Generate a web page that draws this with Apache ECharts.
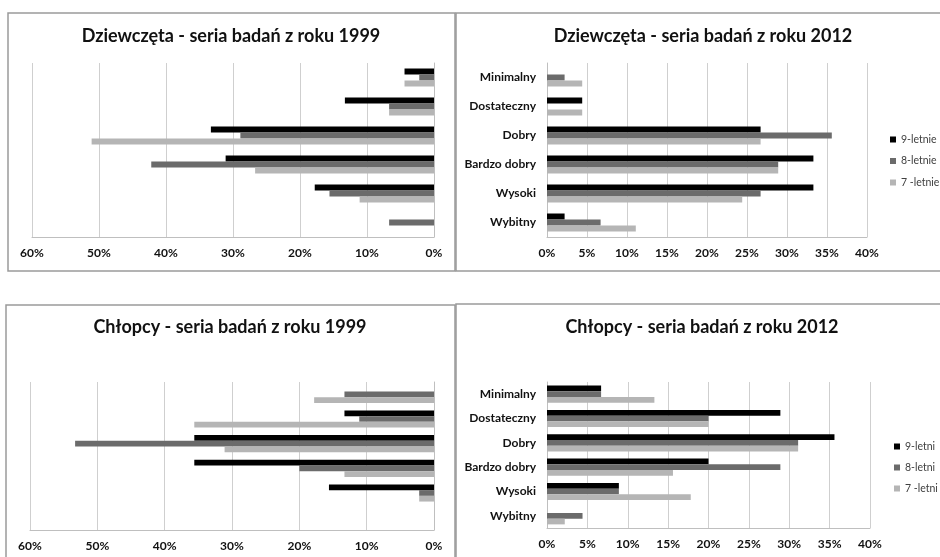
<!DOCTYPE html>
<html><head><meta charset="utf-8">
<script src="https://cdn.jsdelivr.net/npm/echarts@6/dist/echarts.min.js"></script>
<style>html,body{margin:0;padding:0;background:#fff}#c{width:940px;height:557px}</style>
</head><body><div id="c"></div>
<script>
const categories = ['Minimalny','Dostateczny','Dobry','Bardzo dobry','Wysoki','Wybitny'];
const girlsNames = ['9-letnie','8-letnie','7 -letnie'];
const boysNames = ['9-letni','8-letni','7 -letni'];
const titles = ['Dziewczęta - seria badań z roku 1999','Dziewczęta - seria badań z roku 2012','Chłopcy - seria badań z roku 1999','Chłopcy - seria badań z roku 2012'];
const leftTicks = [0,10,20,30,40,50,60];
const rightTicks = [0,5,10,15,20,25,30,35,40];

// values in percent
const girls1999_9 = [4.4, 13.3, 33.3, 31.1, 17.8, 0];
const girls1999_8 = [2.2, 6.7, 28.9, 42.2, 15.6, 6.7];
const girls1999_7 = [4.4, 6.7, 51.1, 26.7, 11.1, 0];
const girls2012_9 = [0, 4.4, 26.7, 33.3, 33.3, 2.2];
const girls2012_8 = [2.2, 0, 35.6, 28.9, 26.7, 6.7];
const girls2012_7 = [4.4, 4.4, 26.7, 28.9, 24.4, 11.1];
const boys1999_9 = [0, 13.3, 35.6, 35.6, 15.6, 0];
const boys1999_8 = [13.3, 11.1, 53.3, 20.0, 2.2, 0];
const boys1999_7 = [17.8, 35.6, 31.1, 13.3, 2.2, 0];
const boys2012_9 = [6.7, 28.9, 35.6, 20.0, 8.9, 0];
const boys2012_8 = [6.7, 20.0, 31.1, 28.9, 8.9, 4.4];
const boys2012_7 = [13.3, 20.0, 31.1, 15.6, 17.8, 2.2];

const colors = ['#000000','#6b6b6b','#b5b5b5'];
const FONT = 'Lato';
const chart = echarts.init(document.getElementById('c'));

const grids = [
  {left:32, top:63, width:402, height:174},
  {left:547, top:63, width:320, height:174},
  {left:30, top:382, width:404, height:148},
  {left:547, top:382, width:323, height:146}
];
const isLeft = [true,false,true,false];
const xAxes = grids.map((g,i)=>({
  gridIndex:i, type:'value', min:0, max: isLeft[i]?leftTicks[leftTicks.length-1]:rightTicks[rightTicks.length-1],
  interval: isLeft[i]?10:5, inverse: isLeft[i],
  axisLine:{show:true, lineStyle:{color:'#bfbfbf'}}, axisTick:{show:false},
  splitLine:{show:true, lineStyle:{color:'#cfcfcf', width:1}},
  axisLabel:{formatter:'{value}%', fontFamily:FONT, fontWeight:'bold', fontSize:12, color:'#111', margin:10}
}));
const yAxes = grids.map((g,i)=>({
  gridIndex:i, type:'category', data:categories, inverse:true, position: isLeft[i]?'right':'left',
  axisLine:{show:true, lineStyle:{color:'#bfbfbf'}}, axisTick:{show:false},
  axisLabel:{show:!isLeft[i], fontFamily:FONT, fontWeight:'bold', fontSize:12, color:'#111', margin:11}
}));
const dataSets = [
  [girls1999_9, girls1999_8, girls1999_7],
  [girls2012_9, girls2012_8, girls2012_7],
  [boys1999_9, boys1999_8, boys1999_7],
  [boys2012_9, boys2012_8, boys2012_7]
];
const series = [];
dataSets.forEach((ds,i)=>{
  const names = i<2?girlsNames:boysNames;
  ds.forEach((d,j)=>{
    series.push({type:'bar', name:names[j], xAxisIndex:i, yAxisIndex:i, data:d,
      barWidth: i<2?6:5.7, barGap:'0%', itemStyle:{color:colors[j]}, silent:true, animation:false});
  });
});
const titleCenters = [[231,27],[703,27],[230,318],[702,318]];
chart.setOption({
  animation:false,
  title: titles.map((t,i)=>({text:t, left:titleCenters[i][0], top:titleCenters[i][1], textAlign:'center', padding:0,
    textStyle:{fontFamily:FONT, fontWeight:'bold', fontSize:18, color:'#111'}})),
  legend:[
    {data:girlsNames, orient:'vertical', left:890, top:134, padding:0, itemWidth:6, itemHeight:6, itemGap:10.5, icon:'rect',
      textStyle:{fontFamily:FONT, fontSize:10.5, color:'#404040'}},
    {data:boysNames, orient:'vertical', left:894, top:441, padding:0, itemWidth:6, itemHeight:6, itemGap:10, icon:'rect',
      textStyle:{fontFamily:FONT, fontSize:10.5, color:'#404040'}}
  ],
  grid:grids, xAxis:xAxes, yAxis:yAxes, series:series,
  graphic:[
    {type:'rect', shape:{x:8,y:13,width:447,height:258}, style:{fill:'none', stroke:'#9a9a9a', lineWidth:1.5}, silent:true},
    {type:'rect', shape:{x:456,y:13,width:500,height:258}, style:{fill:'none', stroke:'#9a9a9a', lineWidth:1.5}, silent:true},
    {type:'rect', shape:{x:6,y:305,width:449,height:270}, style:{fill:'none', stroke:'#9a9a9a', lineWidth:1.5}, silent:true},
    {type:'rect', shape:{x:456,y:304,width:500,height:270}, style:{fill:'none', stroke:'#9a9a9a', lineWidth:1.5}, silent:true}
  ]
});
</script></body></html>
